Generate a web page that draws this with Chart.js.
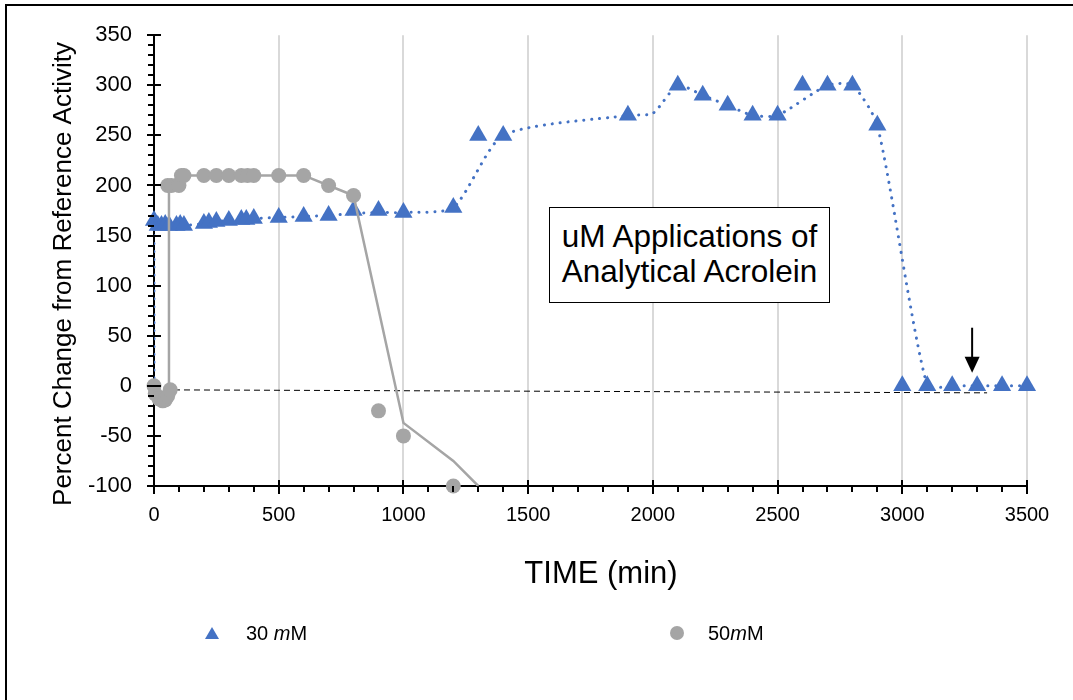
<!DOCTYPE html>
<html><head><meta charset="utf-8">
<script src="https://cdn.jsdelivr.net/npm/chart.js@4.4.1/dist/chart.umd.min.js"></script>
<style>
html,body{margin:0;padding:0;width:1073px;height:700px;overflow:hidden;background:#fff;font-family:"Liberation Sans",Arial,sans-serif;}
#wrap{position:relative;width:1073px;height:700px;}
#frame{position:absolute;left:5px;top:4px;width:1200px;height:900px;border:2px solid #000;box-sizing:border-box;}
#c{position:absolute;left:0;top:0;}
#note{position:absolute;left:549px;top:207px;width:281px;height:96px;box-sizing:border-box;border:1.5px solid #000;background:#fff;font-size:31.5px;line-height:35px;text-align:center;padding-top:11px;color:#000;white-space:nowrap;}
.leg{position:absolute;font-size:20px;line-height:24px;color:#000;white-space:nowrap;}
#tri{position:absolute;left:205px;top:627px;width:0;height:0;border-left:7px solid transparent;border-right:7px solid transparent;border-bottom:12px solid #4472C4;}
#dot{position:absolute;left:670px;top:626px;width:14px;height:14px;border-radius:50%;background:#A5A5A5;}
</style></head>
<body>
<div id="wrap">
<div id="frame"></div>
<canvas id="c" width="1073" height="700"></canvas>
<div id="note">uM Applications of<br>Analytical Acrolein</div>
<div id="tri"></div><div class="leg" style="left:246px;top:621px;">30 <i>m</i>M</div>
<div id="dot"></div><div class="leg" style="left:708px;top:621px;">50<i>m</i>M</div>
</div>
<script>
// ---- data ----
const time30 = [0,15,30,45,60,90,105,120,200,220,250,300,350,370,400,500,600,700,800,900,1000,1200,1300,1400,1900,2100,2200,2300,2400,2500,2600,2700,2800,2900,3000,3100,3200,3300,3400,3500];
const pct30  = [165,160,160,161,160,160,161,160,162,163,164,165,166,166,167,168,169,170,175,175,173,178,250,250,270,300,290,280,270,270,300,300,300,260,0,0,0,0,0,0];
const lineTime30 = [0,0,15,30,45,60,90,105,120,200,220,250,300,350,370,400,500,600,700,800,900,1000,1200,1400,1900,2000,2100,2200,2300,2400,2500,2700,2800,2900,3100,3200,3300,3400,3500];
const linePct30  = [0,160,160,160,161,160,160,161,160,162,163,164,165,166,166,167,168,169,170,172,173,173,178,250,270,272,300,290,280,270,270,300,300,260,0,0,0,0,0];
const time50 = [0,5,20,35,45,55,65,55,70,100,110,120,200,250,300,350,375,400,500,600,700,800,900,1000,1200];
const pct50  = [0,-8,-13,-15,-14,-10,-4,200,200,200,210,210,210,210,210,210,210,210,210,210,200,190,-25,-50,-100];
const lineTime50 = [60,60,100,600,700,800,1000,1200,1300];
const linePct50  = [-5,200,210,210,200,190,-37,-75,-100];
const refTime = [0,3340];
const refPct  = [-4,-7];
const arrowTime = [3280];
const arrowFrom = [58];
const arrowTo   = [13];
const xTickValues = [0,500,1000,1500,2000,2500,3000,3500];
const yTickValues = [-100,-50,0,50,100,150,200,250,300,350];
const seriesNames = ['30 mM','50 mM'];

const pts = (xs, ys) => xs.map((x,i)=>({x:x,y:ys[i]}));
const BLUE = '#4472C4', GRAY = '#A5A5A5';
Chart.defaults.font.family = '"Liberation Sans", Arial, sans-serif';
Chart.defaults.color = '#000';

const decor = {
  id: 'decor',
  afterDatasetsDraw(chart) {
    const ctx = chart.ctx, xs = chart.scales.x, ys = chart.scales.y;
    for (let i = 0; i < arrowTime.length; i++) {
      const x = xs.getPixelForValue(arrowTime[i]);
      const y1 = ys.getPixelForValue(arrowFrom[i]);
      const y2 = ys.getPixelForValue(arrowTo[i]);
      ctx.save();
      ctx.strokeStyle = '#000'; ctx.fillStyle = '#000'; ctx.lineWidth = 2;
      ctx.beginPath(); ctx.moveTo(x, y1); ctx.lineTo(x, y2 - 14); ctx.stroke();
      ctx.beginPath(); ctx.moveTo(x - 7.5, y2 - 16); ctx.lineTo(x + 7.5, y2 - 16); ctx.lineTo(x, y2); ctx.closePath(); ctx.fill();
      ctx.restore();
    }
  },
  afterDraw(chart) {
    const ctx = chart.ctx, xs = chart.scales.x, ys = chart.scales.y, a = chart.chartArea;
    ctx.save();
    ctx.strokeStyle = '#000'; ctx.lineWidth = 2;
    ctx.beginPath();
    for (let v = xs.min; v <= xs.max; v += 100) {
      const px = Math.round(xs.getPixelForValue(v));
      if (v % 500 === 0) { ctx.moveTo(px, a.bottom - 6); ctx.lineTo(px, a.bottom + 8); }
      else { ctx.moveTo(px, a.bottom); ctx.lineTo(px, a.bottom + 6); }
    }
    for (let v = ys.min; v <= ys.max; v += 10) {
      const py = Math.round(ys.getPixelForValue(v));
      if (v % 50 === 0) { ctx.moveTo(a.left - 7, py); ctx.lineTo(a.left + 7, py); }
      else { ctx.moveTo(a.left - 6, py); ctx.lineTo(a.left, py); }
    }
    ctx.stroke();
    ctx.fillStyle = '#000';
    ctx.textAlign = 'center'; ctx.textBaseline = 'alphabetic';
    ctx.font = '31px "Liberation Sans", Arial, sans-serif';
    ctx.fillText('TIME (min)', 601, 583);
    ctx.translate(71, 274); ctx.rotate(-Math.PI/2);
    ctx.font = '26px "Liberation Sans", Arial, sans-serif';
    ctx.fillText('Percent Change from Reference Activity', 0, 0);
    ctx.restore();
  }
};

new Chart(document.getElementById('c'), {
  type: 'scatter',
  data: {
    datasets: [
      { label: seriesNames[0]+' line', data: pts(lineTime30, linePct30), showLine: true, pointRadius: 0,
        borderColor: BLUE, borderWidth: 3, borderDash: [0.1, 7.8], borderCapStyle: 'round', tension: 0.22, order: 3 },
      { label: seriesNames[0], data: pts(time30, pct30), pointStyle: 'triangle', pointRadius: 10.5,
        backgroundColor: BLUE, borderColor: BLUE, borderWidth: 0, clip: false, order: 2 },
      { label: seriesNames[1]+' line', data: pts(lineTime50, linePct50), showLine: true, pointRadius: 0,
        borderColor: GRAY, borderWidth: 2.5, tension: 0, order: 1 },
      { label: seriesNames[1], data: pts(time50, pct50), pointStyle: 'circle', pointRadius: 7.5,
        backgroundColor: GRAY, borderColor: GRAY, borderWidth: 0, clip: false, order: 0 },
      { label: 'reference', data: pts(refTime, refPct), showLine: true, pointRadius: 0,
        borderColor: '#000', borderWidth: 1, borderDash: [6, 4], order: 4 }
    ]
  },
  options: {
    responsive: false, maintainAspectRatio: false, animation: false, devicePixelRatio: 1,
    layout: { padding: { left: 0, top: 35, right: 46, bottom: 0 } },
    plugins: { legend: { display: false }, tooltip: { enabled: false } },
    scales: {
      x: {
        type: 'linear', min: 0, max: 3500,
        afterFit: s => { s.height = 214; },
        afterBuildTicks: s => { s.ticks = xTickValues.map(v => ({value: v})); },
        ticks: { font: { size: 20 }, color: '#000', padding: 17, maxRotation: 0, callback: v => String(v) },
        grid: { display: true, drawTicks: false, tickLength: 0, lineWidth: 2,
                color: c => (c.tick && c.tick.value === 0) ? 'rgba(0,0,0,0)' : '#D9D9D9' },
        border: { display: true, color: '#000', width: 2 }
      },
      y: {
        type: 'linear', min: -100, max: 350,
        afterFit: s => { s.width = 154; },
        afterBuildTicks: s => { s.ticks = yTickValues.map(v => ({value: v})); },
        ticks: { font: { size: 22 }, color: '#000', padding: 22, callback: v => String(v) },
        grid: { display: false, drawTicks: false, tickLength: 0 },
        border: { display: true, color: '#000', width: 2 }
      }
    }
  },
  plugins: [decor]
});
</script>
</body></html>
